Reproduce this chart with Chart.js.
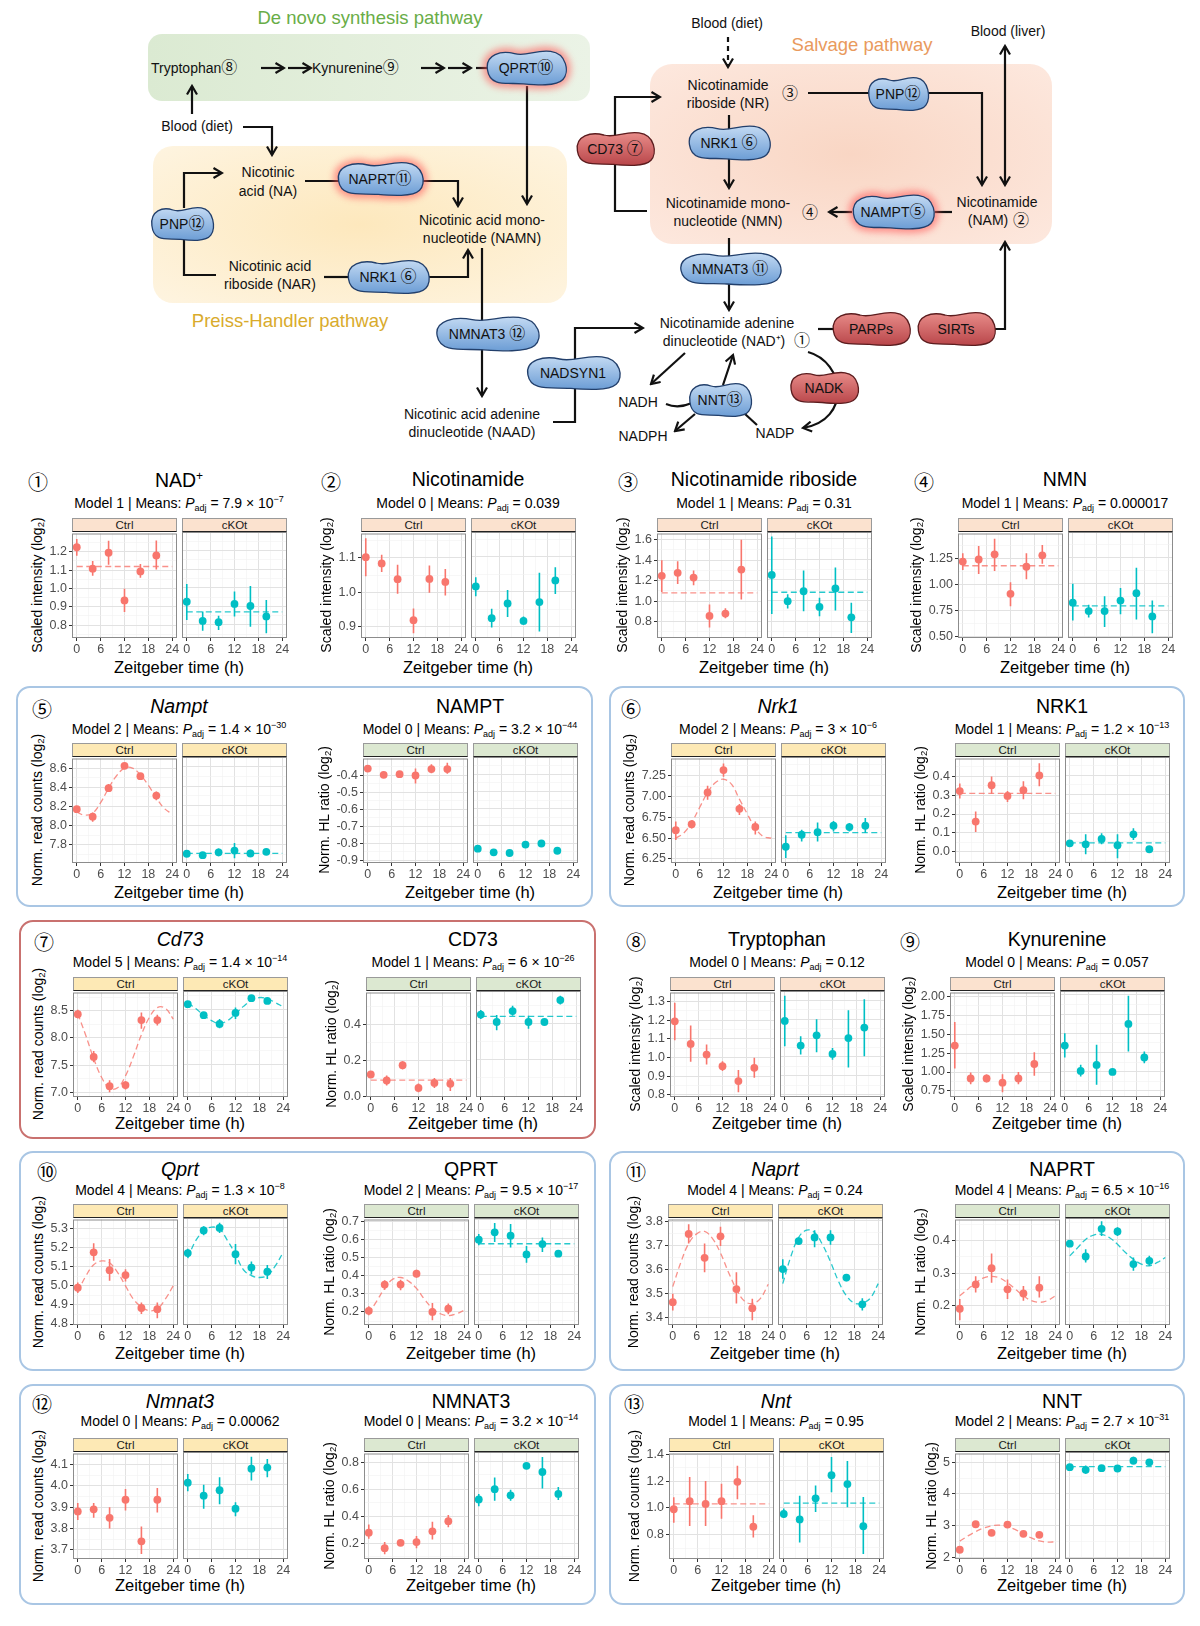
<!DOCTYPE html>
<html>
<head>
<meta charset="utf-8">
<title>NAD+ metabolism around the clock</title>
<script src="https://cdn.jsdelivr.net/npm/chart.js@4.4.1/dist/chart.umd.min.js"></script>
<style>
  body { margin: 0; background: #fff; }
  #page { position: relative; width: 1200px; height: 1626px; overflow: hidden; font-family: "Liberation Sans", Arial, sans-serif; color: #000; }
  #page canvas { position: absolute; }
  #page svg { position: absolute; left: 0; top: 0; }
  .lbl { position: absolute; white-space: nowrap; transform: translate(-50%, -50%); line-height: 1; }
  .ttl { font-size: 19.5px; }
  .sub { font-size: 14px; }
  .sub sub { font-size: 9px; vertical-align: -3px; }
  .sub sup { font-size: 9px; vertical-align: 6px; }
  .xl { font-size: 16.5px; }
  .yl { font-size: 14px; transform: translate(-50%, -50%) rotate(-90deg); }
  .yl sub { font-size: 9.5px; vertical-align: -2px; }
  .num { font-size: 20px; font-family: "Noto Sans CJK JP", "DejaVu Sans", sans-serif; }
  .strip { position: absolute; box-sizing: border-box; height: 14px; font-size: 11.5px; line-height: 12px; text-align: center; border: 1px solid #9a9a9a; border-bottom: 1.4px solid #222; color: #1a1a1a; }
  .box { position: absolute; box-sizing: border-box; border-radius: 14px; border: 2.5px solid #a9c6e4; }
</style>
</head>
<body>
<div id="page"></div>
<script>
Chart.defaults.font.family = '"Liberation Sans", Arial, sans-serif';

// sampling times and the time points used to trace the fitted curves
const zt = [0, 4, 8, 12, 16, 20];
const fitZt = [0, 2, 4, 6, 8, 10, 12, 14, 16, 18, 20, 22, 24];
const fitSpan = [0, 24];
const xTicks = [0, 3, 6, 9, 12, 15, 18, 21, 24];

// each row: [mean, lower, upper]
// 1 NAD+
const nadCtrl = [[1.225, 1.178, 1.27], [1.108, 1.07, 1.15], [1.195, 1.13, 1.26], [0.935, 0.872, 0.998], [1.093, 1.058, 1.133], [1.18, 1.103, 1.262]];
const nadKO = [[0.925, 0.827, 1.02], [0.822, 0.769, 0.872], [0.815, 0.773, 0.85], [0.913, 0.845, 0.98], [0.902, 0.79, 1.01], [0.846, 0.755, 0.935]];
const nadMean = [1.12, 0.87];
const nadTicks = [0.8, 0.9, 1.0, 1.1, 1.2];
// 2 Nicotinamide
const namCtrl = [[1.102, 1.047, 1.157], [1.084, 1.059, 1.109], [1.038, 0.996, 1.08], [0.919, 0.881, 0.953], [1.039, 0.999, 1.078], [1.03, 0.991, 1.068]];
const namKO = [[1.015, 0.987, 1.041], [0.924, 0.897, 0.951], [0.966, 0.927, 1.005], [0.916, 0.905, 0.929], [0.97, 0.886, 1.054], [1.032, 0.993, 1.07]];
const namTicks = [0.9, 1.0, 1.1];
// 3 Nicotinamide riboside
const nrCtrl = [[1.247, 1.09, 1.40], [1.276, 1.166, 1.39], [1.23, 1.156, 1.30], [0.855, 0.742, 0.968], [0.878, 0.832, 0.93], [1.308, 1.017, 1.60]];
const nrKO = [[1.247, 0.871, 1.616], [0.994, 0.923, 1.06], [1.09, 0.897, 1.29], [0.939, 0.849, 1.027], [1.117, 0.904, 1.318], [0.839, 0.687, 0.978]];
const nrMean = [1.08, 1.08];
const nrTicks = [0.8, 1.0, 1.2, 1.4, 1.6];
// 4 NMN
const nmnCtrl = [[1.22, 1.14, 1.30], [1.24, 1.10, 1.37], [1.29, 1.13, 1.44], [0.91, 0.79, 1.02], [1.17, 1.05, 1.30], [1.28, 1.20, 1.38]];
const nmnKO = [[0.82, 0.65, 1.0], [0.74, 0.68, 0.80], [0.74, 0.59, 0.88], [0.84, 0.71, 0.96], [0.91, 0.66, 1.15], [0.69, 0.53, 0.84]];
const nmnMean = [1.18, 0.79];
const nmnTicks = [0.5, 0.75, 1.0, 1.25];
// 5 Nampt / NAMPT
const namptCtrl = [[8.171, 8.137, 8.205], [8.093, 8.04, 8.137], [8.39, 8.35, 8.435], [8.624, 8.595, 8.65], [8.516, 8.48, 8.55], [8.313, 8.265, 8.357]];
const namptKO = [[7.705, 7.695, 7.715], [7.69, 7.665, 7.715], [7.72, 7.68, 7.76], [7.738, 7.66, 7.816], [7.708, 7.67, 7.745], [7.725, 7.70, 7.75]];
const namptCtrlFit = [8.14, 8.11, 8.13, 8.24, 8.39, 8.52, 8.60, 8.60, 8.53, 8.42, 8.29, 8.18, 8.12];
const namptKOMean = 7.71;
const namptTicks = [7.8, 8.0, 8.2, 8.4, 8.6];
const namptPCtrl = [[-0.359, -0.37, -0.35], [-0.396, -0.405, -0.387], [-0.392, -0.40, -0.383], [-0.40, -0.447, -0.359], [-0.362, -0.387, -0.334], [-0.362, -0.39, -0.325]];
const namptPKO = [[-0.832, -0.84, -0.824], [-0.853, -0.86, -0.846], [-0.857, -0.864, -0.85], [-0.808, -0.815, -0.80], [-0.802, -0.81, -0.795], [-0.844, -0.851, -0.837]];
const namptPTicks = [-0.9, -0.8, -0.7, -0.6, -0.5, -0.4];
// 6 Nrk1 / NRK1
const nrk1Ctrl = [[6.595, 6.476, 6.70], [6.667, 6.615, 6.714], [7.05, 6.964, 7.13], [7.32, 7.24, 7.40], [6.853, 6.78, 6.91], [6.635, 6.544, 6.70]];
const nrk1KO = [[6.393, 6.258, 6.53], [6.536, 6.456, 6.595], [6.567, 6.456, 6.68], [6.643, 6.575, 6.70], [6.627, 6.575, 6.675], [6.643, 6.556, 6.734]];
const nrk1CtrlFit = [6.50, 6.56, 6.69, 6.87, 7.05, 7.17, 7.21, 7.15, 6.97, 6.79, 6.62, 6.52, 6.50];
const nrk1KOMean = 6.56;
const nrk1Ticks = [6.25, 6.5, 6.75, 7.0, 7.25];
const nrk1PCtrl = [[0.322, 0.282, 0.362], [0.16, 0.104, 0.214], [0.353, 0.308, 0.40], [0.296, 0.264, 0.322], [0.327, 0.278, 0.374], [0.405, 0.348, 0.47]];
const nrk1PKO = [[0.043, 0.036, 0.05], [0.038, -0.014, 0.09], [0.066, 0.038, 0.096], [0.033, -0.035, 0.09], [0.09, 0.061, 0.122], [0.012, 0.0, 0.024]];
const nrk1PMean = [0.31, 0.045];
const nrk1PTicks = [0.0, 0.1, 0.2, 0.3, 0.4];
// 7 Cd73 / CD73
const cd73Ctrl = [[8.44, 8.36, 8.52], [7.65, 7.55, 7.76], [7.11, 7.0, 7.22], [7.13, 7.05, 7.20], [8.33, 8.17, 8.47], [8.33, 8.23, 8.43]];
const cd73KO = [[8.60, 8.56, 8.64], [8.40, 8.37, 8.43], [8.24, 8.16, 8.33], [8.44, 8.33, 8.54], [8.71, 8.67, 8.75], [8.66, 8.62, 8.70]];
const cd73CtrlFit = [8.45, 8.05, 7.62, 7.27, 7.07, 7.08, 7.30, 7.66, 8.06, 8.38, 8.56, 8.55, 8.35];
const cd73KOFit = [8.62, 8.52, 8.40, 8.30, 8.25, 8.30, 8.42, 8.56, 8.67, 8.72, 8.70, 8.63, 8.55];
const cd73Ticks = [7.0, 7.5, 8.0, 8.5];
const cd73PCtrl = [[0.121, 0.102, 0.14], [0.0875, 0.06, 0.115], [0.173, 0.149, 0.195], [0.046, 0.022, 0.07], [0.074, 0.046, 0.102], [0.069, 0.028, 0.102]];
const cd73PKO = [[0.45, 0.425, 0.475], [0.409, 0.363, 0.447], [0.469, 0.443, 0.498], [0.409, 0.372, 0.443], [0.409, 0.395, 0.423], [0.53, 0.506, 0.554]];
const cd73PMean = [0.09, 0.44];
const cd73PTicks = [0.0, 0.2, 0.4];
// 8 Tryptophan
const trpCtrl = [[1.194, 1.093, 1.293], [1.073, 0.977, 1.172], [1.016, 0.963, 1.07], [0.954, 0.928, 0.98], [0.874, 0.814, 0.933], [0.945, 0.892, 0.999]];
const trpKO = [[1.19, 1.057, 1.323], [1.06, 1.013, 1.11], [1.114, 1.025, 1.199], [1.016, 0.986, 1.048], [1.10, 0.945, 1.247], [1.155, 1.004, 1.305]];
const trpTicks = [0.8, 0.9, 1.0, 1.1, 1.2, 1.3];
// 9 Kynurenine
const kynCtrl = [[1.349, 1.045, 1.66], [0.915, 0.837, 0.993], [0.915, 0.863, 0.967], [0.859, 0.733, 0.971], [0.915, 0.837, 1.0], [1.106, 0.95, 1.262]];
const kynKO = [[1.34, 1.184, 1.50], [1.01, 0.937, 1.089], [1.088, 0.828, 1.349], [0.997, 0.965, 1.03], [1.622, 1.262, 1.987], [1.184, 1.11, 1.262]];
const kynTicks = [0.75, 1.0, 1.25, 1.5, 1.75, 2.0];
// 10 Qprt / QPRT
const qprtCtrl = [[4.99, 4.962, 5.018], [5.175, 5.131, 5.223], [5.082, 5.026, 5.14], [5.056, 5.023, 5.087], [4.884, 4.852, 4.913], [4.878, 4.83, 4.913]];
const qprtKO = [[5.166, 5.143, 5.189], [5.283, 5.258, 5.305], [5.296, 5.27, 5.322], [5.16, 5.108, 5.213], [5.091, 5.056, 5.122], [5.07, 5.032, 5.105]];
const qprtCtrlFit = [4.97, 5.05, 5.11, 5.13, 5.12, 5.07, 5.00, 4.93, 4.89, 4.87, 4.88, 4.93, 5.00];
const qprtKOFit = [5.14, 5.23, 5.28, 5.30, 5.29, 5.23, 5.16, 5.08, 5.05, 5.04, 5.05, 5.10, 5.17];
const qprtTicks = [4.8, 4.9, 5.0, 5.1, 5.2, 5.3];
const qprtPCtrl = [[0.206, 0.182, 0.231], [0.351, 0.323, 0.375], [0.351, 0.32, 0.378], [0.411, 0.389, 0.433], [0.20, 0.154, 0.25], [0.218, 0.187, 0.246]];
const qprtPKO = [[0.592, 0.562, 0.623], [0.632, 0.58, 0.683], [0.614, 0.55, 0.678], [0.512, 0.467, 0.558], [0.568, 0.525, 0.604], [0.516, 0.498, 0.534]];
const qprtPCtrlFit = [0.19, 0.26, 0.33, 0.38, 0.39, 0.37, 0.33, 0.27, 0.22, 0.19, 0.18, 0.19, 0.21];
const qprtPKOMean = 0.57;
const qprtPTicks = [0.2, 0.3, 0.4, 0.5, 0.6, 0.7];
// 11 Naprt / NAPRT
const naprtCtrl = [[3.465, 3.43, 3.50], [3.75, 3.71, 3.79], [3.65, 3.59, 3.71], [3.74, 3.70, 3.78], [3.52, 3.46, 3.59], [3.44, 3.39, 3.48]];
const naprtKO = [[3.60, 3.56, 3.64], [3.715, 3.70, 3.73], [3.73, 3.69, 3.76], [3.73, 3.70, 3.76], [3.565, 3.55, 3.58], [3.455, 3.43, 3.48]];
const naprtCtrlFit = [3.53, 3.63, 3.71, 3.75, 3.76, 3.73, 3.67, 3.59, 3.52, 3.47, 3.46, 3.48, 3.54];
const naprtKOFit = [3.54, 3.65, 3.73, 3.76, 3.75, 3.70, 3.63, 3.55, 3.49, 3.46, 3.46, 3.48, 3.54];
const naprtTicks = [3.4, 3.5, 3.6, 3.7, 3.8];
const naprtPCtrl = [[0.19, 0.155, 0.22], [0.265, 0.24, 0.29], [0.315, 0.27, 0.36], [0.25, 0.22, 0.28], [0.237, 0.215, 0.26], [0.255, 0.225, 0.29]];
const naprtPKO = [[0.387, 0.377, 0.397], [0.348, 0.33, 0.37], [0.432, 0.41, 0.455], [0.424, 0.41, 0.437], [0.325, 0.305, 0.345], [0.335, 0.32, 0.35]];
const naprtPCtrlFit = [0.23, 0.25, 0.27, 0.285, 0.29, 0.285, 0.27, 0.25, 0.23, 0.215, 0.21, 0.215, 0.23];
const naprtPKOFit = [0.35, 0.375, 0.40, 0.413, 0.415, 0.405, 0.385, 0.36, 0.34, 0.325, 0.32, 0.33, 0.345];
const naprtPTicks = [0.2, 0.3, 0.4];
// 12 Nmnat3 / NMNAT3
const nmnat3Ctrl = [[3.88, 3.84, 3.92], [3.89, 3.85, 3.92], [3.85, 3.80, 3.90], [3.935, 3.885, 3.985], [3.74, 3.68, 3.81], [3.935, 3.875, 3.99]];
const nmnat3KO = [[4.01, 3.97, 4.05], [3.95, 3.89, 4.0], [3.975, 3.91, 4.035], [3.89, 3.855, 3.92], [4.075, 4.02, 4.13], [4.08, 4.035, 4.12]];
const nmnat3Ticks = [3.7, 3.8, 3.9, 4.0, 4.1];
const nmnat3PCtrl = [[0.28, 0.235, 0.34], [0.165, 0.12, 0.21], [0.205, 0.185, 0.225], [0.21, 0.165, 0.255], [0.29, 0.23, 0.36], [0.365, 0.32, 0.41]];
const nmnat3PKO = [[0.52, 0.47, 0.56], [0.595, 0.51, 0.68], [0.55, 0.51, 0.59], [0.765, 0.745, 0.785], [0.72, 0.60, 0.83], [0.56, 0.515, 0.61]];
const nmnat3PTicks = [0.2, 0.4, 0.6, 0.8];
// 13 Nnt / NNT
const nntCtrl = [[0.99, 0.89, 1.08], [1.05, 0.865, 1.23], [1.03, 0.865, 1.20], [1.05, 0.92, 1.18], [1.195, 1.065, 1.315], [0.86, 0.78, 0.945]];
const nntKO = [[0.95, 0.92, 0.99], [0.91, 0.74, 1.085], [1.065, 0.965, 1.16], [1.235, 1.11, 1.37], [1.17, 1.00, 1.34], [0.86, 0.655, 1.075]];
const nntMean = [1.03, 1.03];
const nntTicks = [0.8, 1.0, 1.2, 1.4];
const nntPCtrl = [[2.25, 2.15, 2.35], [3.05, 3.0, 3.1], [2.78, 2.73, 2.83], [3.04, 2.99, 3.09], [2.75, 2.70, 2.80], [2.72, 2.67, 2.77]];
const nntPKO = [[4.8, 4.7, 4.9], [4.72, 4.6, 4.85], [4.77, 4.68, 4.86], [4.76, 4.70, 4.82], [5.0, 4.9, 5.12], [4.95, 4.85, 5.05]];
const nntPCtrlFit = [2.52, 2.68, 2.82, 2.93, 3.0, 3.02, 2.98, 2.88, 2.75, 2.62, 2.53, 2.49, 2.50];
const nntPKOMean = 4.82;
const nntPTicks = [2, 3, 4, 5];

const CTRL = '#F8766D', KO = '#00BFC4';
const CTRL_FIT = 'rgba(248,118,109,0.8)', KO_FIT = 'rgba(0,191,196,0.85)';
const STRIP = { met: '#fbe2cf', rna: '#fde9b5', prot: '#dce8d1' };
const YT = {
  met: 'Scaled intensity (log<sub>2</sub>)',
  rna: 'Norm. read counts (log<sub>2</sub>)',
  prot: 'Norm. HL ratio (log<sub>2</sub>)'
};

const rowsY = [
  { title: 480, sub: 504, top: 532, bottom: 638, xl: 667 },
  { title: 707, sub: 730, top: 757, bottom: 863, xl: 892 },
  { title: 940, sub: 963, top: 991, bottom: 1097, xl: 1123 },
  { title: 1170, sub: 1191, top: 1218, bottom: 1325, xl: 1353 },
  { title: 1402, sub: 1422, top: 1452, bottom: 1559, xl: 1585 }
];

const panels = [
  { r: 0, x0: 72, num: '①', nx: 38, title: 'NAD<sup style="font-size:12px">+</sup>', kind: 'met', m: 1, p: '7.9', e: '−7', c: nadCtrl, k: nadKO, cm: nadMean[0], km: nadMean[1], ticks: nadTicks, dec: 1, range: [0.73, 1.30] },
  { r: 0, x0: 361, num: '②', nx: 331, title: 'Nicotinamide', kind: 'met', m: 0, p: '0.039', c: namCtrl, k: namKO, ticks: namTicks, dec: 1, range: [0.867, 1.171] },
  { r: 0, x0: 657, num: '③', nx: 628, title: 'Nicotinamide riboside', kind: 'met', m: 1, p: '0.31', c: nrCtrl, k: nrKO, cm: nrMean[0], km: nrMean[1], ticks: nrTicks, dec: 1, range: [0.64, 1.66] },
  { r: 0, x0: 958, num: '④', nx: 924, title: 'NMN', kind: 'met', m: 1, p: '0.000017', c: nmnCtrl, k: nmnKO, cm: nmnMean[0], km: nmnMean[1], ticks: nmnTicks, dec: 2, range: [0.485, 1.49] },

  { r: 1, x0: 72, num: '⑤', nx: 42, title: '<i>Nampt</i>', kind: 'rna', m: 2, p: '1.4', e: '−30', c: namptCtrl, k: namptKO, cf: namptCtrlFit, km: namptKOMean, ticks: namptTicks, dec: 1, range: [7.61, 8.70] },
  { r: 1, x0: 363, title: 'NAMPT', kind: 'prot', m: 0, p: '3.2', e: '−44', c: namptPCtrl, k: namptPKO, ticks: namptPTicks, dec: 1, range: [-0.915, -0.30] },
  { r: 1, x0: 671, num: '⑥', nx: 631, title: '<i>Nrk1</i>', kind: 'rna', m: 2, p: '3', e: '−6', c: nrk1Ctrl, k: nrk1KO, cf: nrk1CtrlFit, km: nrk1KOMean, ticks: nrk1Ticks, dec: 2, range: [6.20, 7.46] },
  { r: 1, x0: 955, title: 'NRK1', kind: 'prot', m: 1, p: '1.2', e: '−13', c: nrk1PCtrl, k: nrk1PKO, cm: nrk1PMean[0], km: nrk1PMean[1], ticks: nrk1PTicks, dec: 1, range: [-0.06, 0.495] },

  { r: 2, x0: 73, num: '⑦', nx: 44, title: '<i>Cd73</i>', kind: 'rna', m: 5, p: '1.4', e: '−14', c: cd73Ctrl, k: cd73KO, cf: cd73CtrlFit, kf: cd73KOFit, ticks: cd73Ticks, dec: 1, range: [6.91, 8.84] },
  { r: 2, x0: 366, title: 'CD73', kind: 'prot', m: 1, p: '6', e: '−26', c: cd73PCtrl, k: cd73PKO, cm: cd73PMean[0], km: cd73PMean[1], ticks: cd73PTicks, dec: 1, range: [-0.005, 0.58] },
  { r: 2, x0: 670, num: '⑧', nx: 636, title: 'Tryptophan', kind: 'met', m: 0, p: '0.12', c: trpCtrl, k: trpKO, ticks: trpTicks, dec: 1, range: [0.789, 1.348] },
  { r: 2, x0: 950, num: '⑨', nx: 910, title: 'Kynurenine', kind: 'met', m: 0, p: '0.057', c: kynCtrl, k: kynKO, ticks: kynTicks, dec: 2, range: [0.67, 2.05] },

  { r: 3, x0: 73, num: '⑩', nx: 47, title: '<i>Qprt</i>', kind: 'rna', m: 4, p: '1.3', e: '−8', c: qprtCtrl, k: qprtKO, cf: qprtCtrlFit, kf: qprtKOFit, ticks: qprtTicks, dec: 1, range: [4.795, 5.347] },
  { r: 3, x0: 364, title: 'QPRT', kind: 'prot', m: 2, p: '9.5', e: '−17', c: qprtPCtrl, k: qprtPKO, cf: qprtPCtrlFit, km: qprtPKOMean, ticks: qprtPTicks, dec: 1, range: [0.128, 0.71] },
  { r: 3, x0: 668, num: '⑪', nx: 636, title: '<i>Naprt</i>', kind: 'rna', m: 4, p: '0.24', c: naprtCtrl, k: naprtKO, cf: naprtCtrlFit, kf: naprtKOFit, ticks: naprtTicks, dec: 1, range: [3.37, 3.81] },
  { r: 3, x0: 955, title: 'NAPRT', kind: 'prot', m: 4, p: '6.5', e: '−16', c: naprtPCtrl, k: naprtPKO, cf: naprtPCtrlFit, kf: naprtPKOFit, ticks: naprtPTicks, dec: 1, range: [0.14, 0.465] },

  { r: 4, x0: 73, num: '⑫', nx: 42, title: '<i>Nmnat3</i>', kind: 'rna', m: 0, p: '0.00062', c: nmnat3Ctrl, k: nmnat3KO, ticks: nmnat3Ticks, dec: 1, range: [3.657, 4.152] },
  { r: 4, x0: 364, title: 'NMNAT3', kind: 'prot', m: 0, p: '3.2', e: '−14', c: nmnat3PCtrl, k: nmnat3PKO, ticks: nmnat3PTicks, dec: 1, range: [0.085, 0.866] },
  { r: 4, x0: 669, num: '⑬', nx: 634, title: '<i>Nnt</i>', kind: 'rna', m: 1, p: '0.95', c: nntCtrl, k: nntKO, cm: nntMean[0], km: nntMean[1], ticks: nntTicks, dec: 1, range: [0.619, 1.406] },
  { r: 4, x0: 955, title: 'NNT', kind: 'prot', m: 2, p: '2.7', e: '−31', c: nntPCtrl, k: nntPKO, cf: nntPCtrlFit, km: nntPKOMean, ticks: nntPTicks, dec: 0, range: [1.96, 5.27] }
];

const boxes = [
  { x: 16, y: 686, w: 577, h: 221, c: '#a9c6e4' }, { x: 609, y: 686, w: 576, h: 221, c: '#a9c6e4' },
  { x: 19, y: 920, w: 577, h: 219, c: '#c9716f' },
  { x: 19, y: 1151, w: 577, h: 220, c: '#a9c6e4' }, { x: 609, y: 1151, w: 576, h: 220, c: '#a9c6e4' },
  { x: 19, y: 1384, w: 577, h: 221, c: '#a9c6e4' }, { x: 609, y: 1384, w: 576, h: 221, c: '#a9c6e4' }
];

const page = document.getElementById('page');

// ---------- pathway diagram ----------
const S = [];
function T(x, y, s, o) {
  o = o || {};
  // circled numbers come out too small in the fallback font, so give them their own font
  s = s.replace(/([\u2460-\u2473])/g, '<tspan font-family="Noto Sans CJK JP, DejaVu Sans" font-size="16">$1</tspan>');
  S.push(`<text x="${x}" y="${y}" text-anchor="${o.a || 'middle'}" font-size="${o.fs || 14}" fill="${o.c || '#111'}">${s}</text>`);
}
function L(d, o) {
  o = o || {};
  S.push(`<path d="${d}" fill="none" stroke="#111" stroke-width="2.2"${o.dash ? ' stroke-dasharray="5,4"' : ''}${o.end ? ' marker-end="url(#ah)"' : ''}${o.start ? ' marker-start="url(#ah)"' : ''}/>`);
}
function blobPath(cx, cy, w, h) {
  const X = u => (cx - w / 2 + u * w).toFixed(1), Y = v => (cy - h / 2 + v * h).toFixed(1);
  const pts = [[0.03, 0.55], [0.0, 0.12, 0.2, 0.0, 0.36, 0.1], [0.5, 0.2, 0.62, -0.02, 0.8, 0.04],
    [1.0, 0.1, 1.03, 0.62, 0.95, 0.82], [0.87, 1.02, 0.62, 0.97, 0.47, 0.94], [0.28, 0.9, 0.06, 1.04, 0.03, 0.55]];
  let d = `M${X(pts[0][0])},${Y(pts[0][1])}`;
  for (let i = 1; i < pts.length; i++) {
    const q = pts[i];
    d += ` C${X(q[0])},${Y(q[1])} ${X(q[2])},${Y(q[3])} ${X(q[4])},${Y(q[5])}`;
  }
  return d + 'Z';
}
function B(cx, cy, w, h, label, red, glow) {
  const d = blobPath(cx, cy, w, h);
  if (glow) S.push(`<path d="${d}" fill="#ff5a5a" stroke="#ff5a5a" stroke-width="9" opacity="0.6" filter="url(#blur)"/>`);
  S.push(`<path d="${d}" fill="url(#${red ? 'gRed' : 'gBlue'})" stroke="${red ? '#5b1c1e' : '#223f6b'}" stroke-width="1.3"/>`);
  T(cx, cy + 5, label, { fs: 14 });
}

S.push(`<defs>
 <linearGradient id="gGreen" x1="0" x2="1"><stop offset="0" stop-color="#dbead2"/><stop offset="1" stop-color="#ebf3e6"/></linearGradient>
 <radialGradient id="gYel" cx="0.5" cy="0.5" r="0.7"><stop offset="0" stop-color="#fde8bd"/><stop offset="1" stop-color="#fef4e0"/></radialGradient>
 <radialGradient id="gSal" cx="0.5" cy="0.5" r="0.7"><stop offset="0" stop-color="#f9d6c4"/><stop offset="1" stop-color="#fde8de"/></radialGradient>
 <linearGradient id="gBlue" x1="0" y1="0" x2="0" y2="1"><stop offset="0" stop-color="#c3daf3"/><stop offset="1" stop-color="#6c9dd5"/></linearGradient>
 <linearGradient id="gRed" x1="0" y1="0" x2="0" y2="1"><stop offset="0" stop-color="#e88c89"/><stop offset="1" stop-color="#b9464a"/></linearGradient>
 <filter id="blur" x="-30%" y="-60%" width="160%" height="220%"><feGaussianBlur stdDeviation="3.5"/></filter>
 <marker id="ah" viewBox="0 0 12 12" refX="10" refY="6" markerWidth="12" markerHeight="12" markerUnits="userSpaceOnUse" orient="auto-start-reverse"><path d="M1.5,1 L10,6 L1.5,11" fill="none" stroke="#111" stroke-width="2.2"/></marker>
</defs>`);

S.push('<rect x="148" y="34" width="442" height="67" rx="14" fill="url(#gGreen)"/>');
S.push('<rect x="153" y="146" width="414" height="157" rx="20" fill="url(#gYel)"/>');
S.push('<rect x="650" y="64" width="402" height="180" rx="22" fill="url(#gSal)"/>');

T(370, 24, 'De novo synthesis pathway', { fs: 18.5, c: '#69ad47' });
T(862, 51, 'Salvage pathway', { fs: 18.5, c: '#e99a5d' });
T(290, 327, 'Preiss-Handler pathway', { fs: 18.5, c: '#d9ab2c' });

// connectors
L('M261,68 H284', { end: 1 }); L('M288,68 H311', { end: 1 });
L('M421,68 H444', { end: 1 }); L('M448,68 H471', { end: 1 }); L('M476,68 H490');
L('M527,86 V204', { end: 1 });
L('M192,114 V86', { end: 1 });
L('M243,127 H272 V155', { end: 1 });
L('M184,208 V173 H222', { end: 1 });
L('M184,240 V275 H216');
L('M305,181 H340'); L('M420,181 H458 V206', { end: 1 });
L('M324,277 H350'); L('M425,277 H468 V250', { end: 1 });
L('M482,248 V396', { end: 1 });
L('M553,422 H575 V328 H643', { end: 1 });
L('M728,37 V67', { end: 1, dash: 1 });
L('M1005,185 V46', { end: 1, start: 1 });
L('M647,211 H615 V97 H660', { end: 1 });
L('M729,115 V188', { end: 1 });
L('M852,212 H829', { end: 1 });
L('M935,212 H952');
L('M808,93 H870'); L('M926,93 H982 V185', { end: 1 });
L('M729,238 V310', { end: 1 });
L('M818,329 H834'); L('M993,329 H1005 V242', { end: 1 });
L('M685,353 L651,384', { end: 1 });
L('M666,404 Q678,409 692,403');
L('M723,385 L733,355', { end: 1 });
L('M695,414 L675,431', { end: 1 });
L('M745,414 L757,425');
L('M808,352 C845,362 852,420 803,428', { end: 1 });

// enzymes
B(526, 68, 82, 36, 'QPRT⑩', false, true);
B(380, 179, 88, 35, 'NAPRT⑪', false, true);
B(182, 224, 64, 35, 'PNP⑫');
B(388, 277, 84, 35, 'NRK1 ⑥');
B(487, 334, 106, 36, 'NMNAT3 ⑫');
B(573, 373, 96, 35, 'NADSYN1');
B(615, 149, 80, 35, 'CD73 ⑦', true);
B(729, 143, 84, 36, 'NRK1 ⑥');
B(893, 212, 84, 36, 'NAMPT⑤', false, true);
B(898, 94, 62, 35, 'PNP⑫');
B(730, 269, 104, 34, 'NMNAT3 ⑪');
B(871, 329, 80, 35, 'PARPs', true);
B(956, 329, 80, 35, 'SIRTs', true);
B(720, 400, 64, 35, 'NNT⑬');
B(824, 388, 70, 33, 'NADK', true);

// metabolites
T(151, 73, 'Tryptophan⑧', { a: 'start' });
T(312, 73, 'Kynurenine⑨', { a: 'start' });
T(197, 131, 'Blood (diet)');
T(268, 177, 'Nicotinic'); T(268, 196, 'acid (NA)');
T(482, 225, 'Nicotinic acid mono-'); T(482, 243, 'nucleotide (NAMN)');
T(270, 271, 'Nicotinic acid'); T(270, 289, 'riboside (NAR)');
T(472, 419, 'Nicotinic acid adenine'); T(472, 437, 'dinucleotide (NAAD)');
T(727, 28, 'Blood (diet)');
T(1008, 36, 'Blood (liver)');
T(728, 90, 'Nicotinamide'); T(728, 108, 'riboside (NR)'); T(790, 99, '③');
T(728, 208, 'Nicotinamide mono-'); T(728, 226, 'nucleotide (NMN)'); T(810, 218, '④');
T(997, 207, 'Nicotinamide'); T(988, 225, '(NAM)'); T(1021, 226, '②');
T(727, 328, 'Nicotinamide adenine'); T(724, 346, 'dinucleotide (NAD⁺)'); T(802, 346, '①');
T(638, 407, 'NADH'); T(643, 441, 'NADPH'); T(775, 438, 'NADP');

page.insertAdjacentHTML('beforeend', `<svg width="1200" height="450" xmlns="http://www.w3.org/2000/svg" font-family="Liberation Sans, Arial, sans-serif">${S.join('')}</svg>`);

// ---------- panels ----------
function addDiv(cls, x, y, html) {
  const d = document.createElement('div');
  d.className = cls;
  d.style.left = x + 'px';
  d.style.top = y + 'px';
  d.innerHTML = html;
  page.appendChild(d);
}
function addStrip(x, top, w, text, bg) {
  const d = document.createElement('div');
  d.className = 'strip';
  d.style.cssText = `left:${x}px;top:${top}px;width:${w}px;background:${bg}`;
  d.textContent = text;
  page.appendChild(d);
}
boxes.forEach(b => {
  const d = document.createElement('div');
  d.className = 'box';
  d.style.cssText = `left:${b.x}px;top:${b.y}px;width:${b.w}px;height:${b.h}px;border-color:${b.c}`;
  page.appendChild(d);
});

const frame = {
  id: 'frame',
  afterDraw(c) {
    const a = c.chartArea, g = c.ctx;
    g.save();
    g.strokeStyle = '#8c8c8c';
    g.lineWidth = 1;
    g.strokeRect(a.left + 0.5, a.top + 0.5, a.right - a.left - 1, a.bottom - a.top - 1);
    g.restore();
  }
};

const mctx = document.createElement('canvas').getContext('2d');
mctx.font = '12.5px "Liberation Sans", Arial, sans-serif';
const isMajor = c => c.tick && c.tick.lab !== '';

function yTickList(p) {
  const step = p.ticks[1] - p.ticks[0];
  const out = p.ticks.map(v => ({ value: v, lab: v.toFixed(p.dec) }));
  [p.ticks[0] - step / 2].concat(p.ticks.map(v => v + step / 2)).forEach(v => {
    if (v > p.range[0] && v < p.range[1]) out.push({ value: v, lab: '' });
  });
  return out.sort((a, b) => a.value - b.value);
}

const FW = 105, GAP = 110;

function facet(x, R, rows, fit, mean, col, fcol, p, wy) {
  const first = wy > 0;
  const padL = first ? 0 : 8, padR = 10, padT = 8, axH = 18;
  const ph = R.bottom - R.top;
  const cw = wy + padL + FW + padR, ch = padT + ph + axH;
  const cv = document.createElement('canvas');
  cv.width = cw; cv.height = ch;
  cv.style.left = (x - wy - padL) + 'px';
  cv.style.top = (R.top - padT) + 'px';
  page.appendChild(cv);

  const bars = [];
  rows.forEach((r, i) => bars.push({ x: zt[i], y: r[1] }, { x: zt[i], y: r[2] }, { x: zt[i], y: null }));
  const ds = [{ data: bars, borderColor: col, borderWidth: 1.6, pointRadius: 0, spanGaps: false, clip: false, order: 3 }];
  if (fit) {
    ds.push({ data: fit.map((v, i) => ({ x: fitZt[i], y: v })), borderColor: fcol, borderWidth: 1.3, borderDash: [6, 3.5], pointRadius: 0, tension: 0.4, clip: false, order: 2 });
  } else if (mean != null) {
    ds.push({ data: fitSpan.map(t => ({ x: t, y: mean })), borderColor: fcol, borderWidth: 1.3, borderDash: [6, 3.5], pointRadius: 0, order: 2 });
  }
  ds.push({ data: rows.map((r, i) => ({ x: zt[i], y: r[0] })), showLine: false, pointRadius: 3.9, pointBackgroundColor: col, pointBorderWidth: 0, clip: false, order: 1 });

  new Chart(cv, {
    type: 'line',
    data: { datasets: ds },
    plugins: [frame],
    options: {
      responsive: false,
      animation: false,
      events: [],
      layout: { padding: { left: padL, right: padR, top: padT, bottom: 0 } },
      plugins: { legend: { display: false }, tooltip: { enabled: false } },
      scales: {
        x: {
          type: 'linear', min: -1.2, max: 25.2,
          afterBuildTicks: s => { s.ticks = xTicks.map(v => ({ value: v, lab: v % 6 === 0 ? String(v) : '' })); },
          afterFit: s => { s.height = axH; },
          ticks: { autoSkip: false, maxRotation: 0, padding: 1, color: '#4d4d4d', font: { size: 12.5 }, callback: (v, i, t) => t[i].lab },
          grid: { color: c => isMajor(c) ? '#e2e2e2' : '#f2f2f2', lineWidth: c => isMajor(c) ? 1 : 0.6, tickColor: c => isMajor(c) ? '#333' : 'rgba(0,0,0,0)', tickLength: 3 },
          border: { display: false }
        },
        y: {
          type: 'linear', min: p.range[0], max: p.range[1],
          afterBuildTicks: s => { s.ticks = yTickList(p); },
          afterFit: s => { s.width = wy; },
          ticks: { display: first, autoSkip: false, padding: 2, color: '#4d4d4d', font: { size: 12.5 }, callback: (v, i, t) => t[i].lab },
          grid: { color: c => isMajor(c) ? '#e2e2e2' : '#f2f2f2', lineWidth: c => isMajor(c) ? 1 : 0.6, tickColor: c => isMajor(c) ? '#333' : 'rgba(0,0,0,0)', tickLength: 3, drawTicks: first },
          border: { display: false }
        }
      }
    }
  });
}

panels.forEach(p => {
  const R = rowsY[p.r];
  const xk = p.x0 + GAP;
  const mid = p.x0 + 107;
  if (p.num) addDiv('lbl num', p.nx, R.title + 2, p.num);
  addDiv('lbl ttl', mid, R.title, p.title);
  const pv = p.e ? `${p.p} × 10<sup>${p.e}</sup>` : p.p;
  addDiv('lbl sub', mid, R.sub, `Model ${p.m} | Means: <i>P</i><sub>adj</sub> = ${pv}`);
  addStrip(p.x0, R.top - 14, FW, 'Ctrl', STRIP[p.kind]);
  addStrip(xk, R.top - 14, FW, 'cKOt', STRIP[p.kind]);
  addDiv('lbl xl', mid, R.xl, 'Zeitgeber time (h)');
  const lw = Math.max(...p.ticks.map(v => mctx.measureText(v.toFixed(p.dec)).width));
  const wy = Math.ceil(lw) + 7;
  addDiv('lbl yl', p.x0 - wy - 9, (R.top + R.bottom) / 2, YT[p.kind]);
  facet(p.x0, R, p.c, p.cf, p.cm, CTRL, CTRL_FIT, p, wy);
  facet(xk, R, p.k, p.kf, p.km, KO, KO_FIT, p, 0);
});
</script>
</body>
</html>
